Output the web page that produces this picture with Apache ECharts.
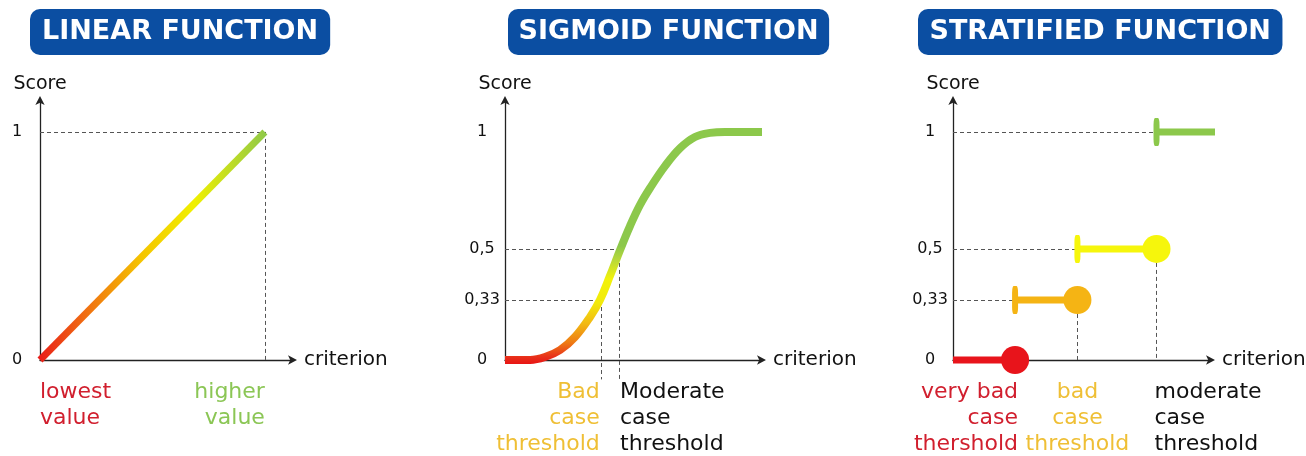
<!DOCTYPE html>
<html>
<head>
<meta charset="utf-8">
<script src="https://cdn.jsdelivr.net/npm/echarts@6/dist/echarts.min.js"></script>
<style>
  html, body { margin: 0; padding: 0; background: #fff; }
  #chart { width: 1306px; height: 456px; }
</style>
</head>
<body>
<div id="chart"></div>
<script>
// ---------- data ----------
const panelTitles = ['LINEAR FUNCTION', 'SIGMOID FUNCTION', 'STRATIFIED FUNCTION'];
const yAxisName = 'Score';
const xAxisName = 'criterion';

// y-axis tick positions (schematic) and their texts
const linearTickPos = [0, 1];
const linearTickText = ['0', '1'];
const scoreTickPos = [0, 0.263, 0.487, 1];
const scoreTickText = ['0', '0,33', '0,5', '1'];

// linear function
const linearX = [0, 1];
const linearY = [0, 1];
const linearLabels = ['lowest\nvalue', 'higher\nvalue'];
const linearLabelX = [0, 1];

// sigmoid function (criterion in 0..100 units)
const sigmoidX = [0, 9.6, 15.3, 21.1, 26.8, 32.6, 36.4, 40.2, 44.1, 47.9, 51.7, 55.6, 61.3, 67.1, 72.8, 78.6, 84.3, 98.5];
const sigmoidY = [0, 0, 0.013, 0.044, 0.101, 0.189, 0.263, 0.368, 0.482, 0.587, 0.679, 0.754, 0.850, 0.929, 0.978, 0.996, 1, 1];
const sigmoidThresholdX = [36.7, 43.7];
const sigmoidThresholdY = [0.263, 0.487];
const sigmoidLabels = ['Bad\ncase\nthreshold', 'Moderate\ncase\nthreshold'];

// stratified function
const stratStartX = [0, 23.7, 47.5, 77.7];
const stratEndX = [23.7, 47.5, 77.7, 100.5];
const stratY = [0, 0.263, 0.487, 1];
const stratLabels = ['very bad\ncase\nthershold', 'bad\ncase\nthreshold', 'moderate\ncase\nthreshold'];
const stratLabelX = [23.7, 47.5, 77.7];

// ---------- styles ----------
const FONT = 'DejaVu Sans';
const RED = '#e8141b', ORANGE = '#f5b414', YELLOW = '#f6f60c', GREEN = '#8cc84b';
const TXT_RED = '#d11f2e', TXT_GOLD = '#efbf35', TXT_GREEN = '#8bc655', TXT_BLACK = '#111';
const BLUE = '#0b4ea2';
const DASH = { color: '#555', width: 1, type: [4, 3], opacity: 1 };

const chart = echarts.init(document.getElementById('chart'), null, { renderer: 'canvas' });

const grids = [
  { left: 40, top: 100, width: 253, height: 260, outerBoundsMode: 'none' },
  { left: 505, top: 100, width: 257, height: 260, outerBoundsMode: 'none' },
  { left: 953, top: 100, width: 258, height: 260, outerBoundsMode: 'none' }
];
const xMax = [1.125, 98.5, 98.5];
const yMax = 1.14;

function makeX(i) {
  return {
    type: 'value', gridIndex: i, min: 0, max: xMax[i],
    axisLine: { show: true, onZero: false, symbol: ['none', 'arrow'], symbolSize: [7, 9], symbolOffset: [0, 4], lineStyle: { color: '#222', width: 1.3 } },
    axisTick: { show: false }, axisLabel: { show: false }, splitLine: { show: false },
    name: xAxisName, nameLocation: 'end', nameGap: 11,
    nameTextStyle: { fontFamily: FONT, fontSize: 20, color: TXT_BLACK, verticalAlign: 'middle' }
  };
}
function makeY(i, pos, txt) {
  return {
    type: 'value', gridIndex: i, min: 0, max: yMax,
    axisLine: { show: true, onZero: false, symbol: ['none', 'arrow'], symbolSize: [7, 9], symbolOffset: [0, 4], lineStyle: { color: '#222', width: 1.3 } },
    axisTick: { show: false }, splitLine: { show: false },
    axisLabel: {
      show: true, customValues: pos, margin: 23, align: 'center',
      fontFamily: FONT, fontSize: 16, color: TXT_BLACK,
      formatter: v => { const k = pos.findIndex(p => Math.abs(p - v) < 1e-6); return k >= 0 ? txt[k] : ''; }
    },
    name: yAxisName, nameLocation: 'end', nameGap: 6,
    nameTextStyle: { fontFamily: FONT, fontSize: 19, color: TXT_BLACK, align: 'center' }
  };
}

function dashLines(i, segs, clip) {
  return {
    type: 'lines', coordinateSystem: 'cartesian2d', xAxisIndex: i, yAxisIndex: i,
    silent: true, clip: clip !== false, z: 1,
    lineStyle: DASH,
    data: segs.map(s => ({ coords: s }))
  };
}

function labelSeries(i, xs, names, opts) {
  return {
    type: 'scatter', xAxisIndex: i, yAxisIndex: i, symbolSize: 0, silent: true, clip: false,
    itemStyle: { opacity: 1 },
    data: xs.map((x, k) => ({
      name: names[k], value: [x, 0],
      label: { align: opts[k].align, color: opts[k].color, position: [opts[k].dx || 0, 19] }
    })),
    label: {
      show: true, formatter: '{b}', verticalAlign: 'top', opacity: 1,
      fontFamily: FONT, fontSize: 22, lineHeight: 26
    }
  };
}

const series = [];

// ---- Panel 1: linear ----
series.push(dashLines(0, [
  [[0, linearY[1]], [linearX[1], linearY[1]]],
  [[linearX[1], linearY[1]], [linearX[1], 0]]
]));
series.push({
  type: 'line', xAxisIndex: 0, yAxisIndex: 0, symbol: 'none', z: 3,
  data: linearX.map((x, k) => [x, linearY[k]]),
  lineStyle: {
    width: 7, cap: 'butt',
    color: new echarts.graphic.LinearGradient(0, 0, 1, 0, [
      { offset: 0, color: '#e81818' },
      { offset: 0.2, color: '#f06a12' },
      { offset: 0.45, color: '#f5c400' },
      { offset: 0.68, color: '#f0f000' },
      { offset: 1, color: '#8cc84b' }
    ])
  }
});
series.push(labelSeries(0, linearLabelX, linearLabels, [
  { align: 'left', color: TXT_RED },
  { align: 'right', color: TXT_GREEN }
]));

// ---- Panel 2: sigmoid ----
series.push(dashLines(1, [
  [[0, sigmoidThresholdY[0]], [sigmoidThresholdX[0], sigmoidThresholdY[0]]],
  [[sigmoidThresholdX[0], sigmoidThresholdY[0]], [sigmoidThresholdX[0], -0.085]],
  [[0, sigmoidThresholdY[1]], [sigmoidThresholdX[1], sigmoidThresholdY[1]]],
  [[sigmoidThresholdX[1], sigmoidThresholdY[1]], [sigmoidThresholdX[1], -0.085]]
], false));
series.push({
  type: 'line', xAxisIndex: 1, yAxisIndex: 1, symbol: 'none', z: 3,
  smooth: 0.4,
  data: sigmoidX.map((x, k) => [x, sigmoidY[k]]),
  lineStyle: {
    width: 8, cap: 'butt',
    color: new echarts.graphic.LinearGradient(0, 0, 0, 1, [
      { offset: 0, color: '#8cc84b' },
      { offset: 0.5, color: '#8cc84b' },
      { offset: 0.56, color: '#b9d93a' },
      { offset: 0.64, color: '#f2f20a' },
      { offset: 0.74, color: '#f2ea0a' },
      { offset: 0.83, color: '#f2b814' },
      { offset: 0.91, color: '#ee7a14' },
      { offset: 0.97, color: '#e8301a' },
      { offset: 1, color: '#e81414' }
    ])
  }
});
series.push(labelSeries(1, sigmoidThresholdX, sigmoidLabels, [
  { align: 'right', color: TXT_GOLD, dx: -1 },
  { align: 'left', color: TXT_BLACK, dx: 1 }
]));

// ---- Panel 3: stratified ----
const stepColors = [RED, ORANGE, YELLOW, GREEN];
series.push(dashLines(2, [
  [[0, stratY[1]], [stratStartX[1], stratY[1]]],
  [[0, stratY[2]], [stratStartX[2], stratY[2]]],
  [[0, stratY[3]], [stratStartX[3], stratY[3]]],
  [[stratEndX[1], stratY[1]], [stratEndX[1], 0]],
  [[stratEndX[2], stratY[2]], [stratEndX[2], 0]]
]));
stratY.forEach((y, k) => {
  const hasBar = k > 0;
  const hasDot = k < stratY.length - 1;
  series.push({
    type: 'line', xAxisIndex: 2, yAxisIndex: 2, clip: false, z: 3 + k,
    showSymbol: true, showAllSymbol: true,
    lineStyle: { width: 7, color: stepColors[k], cap: 'butt' },
    itemStyle: { color: stepColors[k], opacity: 1 },
    data: [
      { value: [stratStartX[k], y], symbol: hasBar ? 'roundRect' : 'none', symbolSize: [6, 28] },
      { value: [stratEndX[k], y], symbol: hasDot ? 'circle' : 'none', symbolSize: 28 }
    ]
  });
});
series.push(labelSeries(2, stratLabelX, stratLabels, [
  { align: 'right', color: TXT_RED, dx: 3 },
  { align: 'center', color: TXT_GOLD },
  { align: 'left', color: TXT_BLACK, dx: -2 }
]));

const titleBoxes = [{ left: 30, pad: 12 }, { left: 508, pad: 10.5 }, { left: 918, pad: 11.5 }];

chart.setOption({
  animation: false,
  title: panelTitles.map((t, i) => ({
    text: t, left: titleBoxes[i].left, top: 9,
    padding: [7, titleBoxes[i].pad], backgroundColor: BLUE, borderRadius: 10,
    textStyle: { color: '#fff', fontFamily: FONT, fontSize: 27, fontWeight: 'bold', lineHeight: 32 }
  })),
  grid: grids,
  xAxis: [makeX(0), makeX(1), makeX(2)],
  yAxis: [makeY(0, linearTickPos, linearTickText), makeY(1, scoreTickPos, scoreTickText), makeY(2, scoreTickPos, scoreTickText)],
  series: series
});
</script>
</body>
</html>
